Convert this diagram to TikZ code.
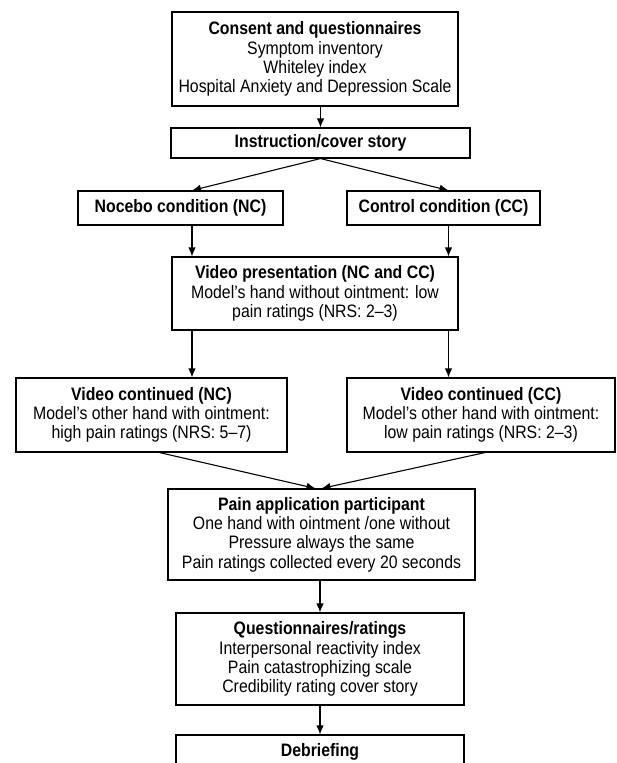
\documentclass[tikz,border=0pt]{standalone}
\usepackage{fontspec}
\setmainfont{Liberation Sans}[FakeStretch=0.88]
\usetikzlibrary{arrows.meta,positioning}

\begin{document}
\begin{tikzpicture}[x=1pt, y=-1pt, >={Latex[length=9pt,width=7.5pt]}, line width=1.1pt,
  every node/.style={font=\fontsize{18}{19.3}\selectfont, align=center, inner sep=0pt},
  box/.style={draw, line width=1.1pt}]
\clip (0,0) rectangle (616,763);
\node (consent) [box, minimum width=286pt, minimum height=94pt] at (315,59)
  {\textbf{Consent and questionnaires}\\Symptom inventory\\Whiteley index\\Hospital Anxiety and Depression Scale};
\node (instr) [box, minimum width=299pt, minimum height=30pt] at (320.5,143)
  {\textbf{Instruction/cover story}};
\node (nc) [box, minimum width=205pt, minimum height=34pt] at (180.5,208)
  {\textbf{Nocebo condition (NC)}};
\node (cc) [box, minimum width=193pt, minimum height=34pt] at (443.5,208)
  {\textbf{Control condition (CC)}};
\node (video) [box, minimum width=286pt, minimum height=73pt] at (315,293.5)
  {\textbf{Video presentation (NC and CC)}\\Model’s hand without ointment: low\\pain ratings (NRS: 2–3)};
\node (ncvid) [box, minimum width=271pt, minimum height=74pt] at (151.5,415)
  {\textbf{Video continued (NC)}\\Model’s other hand with ointment:\\high pain ratings (NRS: 5–7)};
\node (ccvid) [box, minimum width=268pt, minimum height=74pt] at (481,415)
  {\textbf{Video continued (CC)}\\Model’s other hand with ointment:\\low pain ratings (NRS: 2–3)};
\node (pain) [box, minimum width=307pt, minimum height=91pt] at (321.5,534.5)
  {\textbf{Pain application participant}\\One hand with ointment /one without\\Pressure always the same\\Pain ratings collected every 20 seconds};
\node (quest) [box, minimum width=288pt, minimum height=92pt] at (320,659)
  {\textbf{Questionnaires/ratings}\\Interpersonal reactivity index\\Pain catastrophizing scale\\Credibility rating cover story};
\node (debrief) [box, minimum width=288pt, minimum height=34pt] at (320,752)
  {\textbf{Debriefing}};
% columns of the two arms
\coordinate (lcol) at (192,0);
\coordinate (rcol) at (448.5,0);
\draw[->] (instr.north |- consent.south) -- (instr.north);
\draw[->] (instr.south) -- (nc.north -| lcol);
\draw[->] (instr.south) -- (cc.north -| rcol);
\draw[->] (nc.south -| lcol) -- (video.north -| lcol);
\draw[->] (cc.south -| rcol) -- (video.north -| rcol);
\draw[->] (video.south -| lcol) -- (ncvid.north -| lcol);
\draw[->] (video.south -| rcol) -- (ccvid.north -| rcol);
\draw[->] ([xshift=8pt]ncvid.south) -- ([xshift=-6pt]pain.north);
\draw[->] ([xshift=4pt]ccvid.south) -- (pain.north);
\draw[->] (quest.north |- pain.south) -- (quest.north);
\draw[->] (quest.south) -- (debrief.north);
\end{tikzpicture}
\end{document}
